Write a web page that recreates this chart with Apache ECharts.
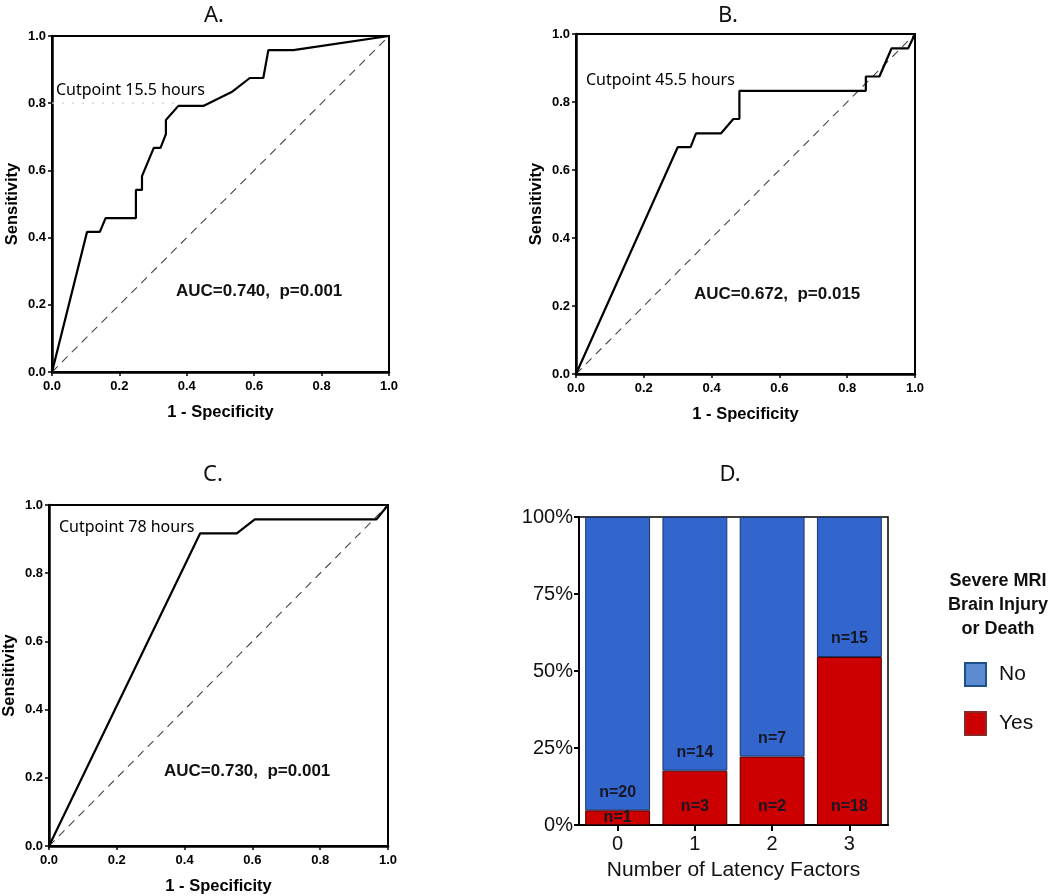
<!DOCTYPE html>
<html>
<head>
<meta charset="utf-8">
<script src="https://cdn.jsdelivr.net/npm/echarts@6/dist/echarts.min.js"></script>
<style>
html,body{margin:0;padding:0;background:#fff;}
#chart{width:1050px;height:896px;}
</style>
</head>
<body>
<div id="chart"></div>
<script>
// ---- Data ----
const rocTicks = [0, 0.2, 0.4, 0.6, 0.8, 1.0];

const fprA = [0, 0.104, 0.142, 0.159, 0.249, 0.249, 0.267, 0.267, 0.302, 0.322, 0.338, 0.338, 0.375, 0.449, 0.533, 0.587, 0.627, 0.642, 0.716, 1.0];
const tprA = [0, 0.417, 0.417, 0.458, 0.458, 0.542, 0.542, 0.583, 0.667, 0.667, 0.708, 0.750, 0.792, 0.792, 0.833, 0.875, 0.875, 0.958, 0.958, 1.0];

const fprB = [0, 0.300, 0.338, 0.354, 0.428, 0.464, 0.482, 0.482, 0.855, 0.855, 0.895, 0.931, 0.980, 1.0];
const tprB = [0, 0.667, 0.667, 0.708, 0.708, 0.750, 0.750, 0.833, 0.833, 0.875, 0.875, 0.958, 0.958, 1.0];

const fprC = [0, 0.446, 0.554, 0.607, 0.966, 1.0];
const tprC = [0, 0.917, 0.917, 0.958, 0.958, 1.0];

const diagX = [0, 1];
const diagY = [0, 1];

const cutGuideAX = [0, 0.375];
const cutGuideAY = [0.8, 0.8];

const panelTitles = ['A.', 'B.', 'C.', 'D.'];
const cutpointTexts = ['Cutpoint 15.5 hours', 'Cutpoint 45.5 hours', 'Cutpoint 78 hours'];
const aucTexts = ['AUC=0.740,  p=0.001', 'AUC=0.672,  p=0.015', 'AUC=0.730,  p=0.001'];

const latencyCategories = ['0', '1', '2', '3'];
const countNo = [20, 14, 7, 15];
const countYes = [1, 3, 2, 18];
const pctTicks = [0, 25, 50, 75, 100];

// ---- Build ----
const zip = (xs, ys) => xs.map((x, i) => [x, ys[i]]);
const pctYes = countYes.map((v, i) => v / (v + countNo[i]) * 100);
const pctNo = countNo.map((v, i) => v / (v + countYes[i]) * 100);

const chart = echarts.init(document.getElementById('chart'), null, {renderer: 'canvas'});

const rocGrids = [
  {left: 52, top: 36, width: 337, height: 336},
  {left: 576, top: 34, width: 339, height: 340},
  {left: 48, top: 505, width: 340, height: 341}
];
const barGrid = {left: 579, top: 517, width: 309, height: 308};

const tickFont = {fontFamily: 'Liberation Sans, Arial', fontWeight: 'bold', fontSize: 13, color: '#000'};
const nameFont = {fontFamily: 'Liberation Sans, Arial', fontWeight: 'bold', fontSize: 16.5, color: '#000'};

const grid = rocGrids.map(g => Object.assign({show: true, borderColor: '#000', borderWidth: 2, backgroundColor: '#fff'}, g));
grid.push(Object.assign({show: true, borderColor: '#000', borderWidth: 1.5, backgroundColor: '#fff'}, barGrid));

const xAxis = [], yAxis = [];
for (let i = 0; i < 3; i++) {
  xAxis.push({
    gridIndex: i, type: 'value', min: 0, max: 1, interval: 0.2,
    name: '1 - Specificity', nameLocation: 'middle', nameGap: 32, nameTextStyle: nameFont,
    axisLine: {show: true, onZero: false, lineStyle: {color: '#000', width: 2.5}},
    axisTick: {show: true, length: 4, lineStyle: {color: '#000', width: 1.5}},
    axisLabel: Object.assign({margin: 8, formatter: v => v.toFixed(1)}, tickFont),
    splitLine: {show: false}
  });
  yAxis.push({
    gridIndex: i, type: 'value', min: 0, max: 1, interval: 0.2,
    name: 'Sensitivity', nameLocation: 'middle', nameGap: 31, nameTextStyle: nameFont,
    axisLine: {show: true, onZero: false, lineStyle: {color: '#000', width: 2.5}},
    axisTick: {show: true, length: 4, lineStyle: {color: '#000', width: 1.5}},
    axisLabel: Object.assign({margin: 6, formatter: v => v.toFixed(1)}, tickFont),
    splitLine: {show: false}
  });
}
xAxis.push({
  gridIndex: 3, type: 'category', data: latencyCategories,
  name: 'Number of Latency Factors', nameLocation: 'middle', nameGap: 35,
  nameTextStyle: {fontFamily: 'Liberation Sans, Arial', fontSize: 21, color: '#111', letterSpacing: 0.5},
  axisLine: {show: true, lineStyle: {color: '#000', width: 2}},
  axisTick: {show: true, alignWithLabel: true, length: 6, lineStyle: {color: '#000', width: 2}},
  axisLabel: {margin: 9, fontFamily: 'Liberation Sans, Arial', fontSize: 20, color: '#111'}
});
yAxis.push({
  gridIndex: 3, type: 'value', min: 0, max: 100, interval: 25,
  axisLine: {show: true, lineStyle: {color: '#000', width: 2}},
  axisTick: {show: true, length: 5, lineStyle: {color: '#000', width: 2}},
  axisLabel: {margin: 6, formatter: '{value}%', fontFamily: 'Liberation Sans, Arial', fontSize: 20, color: '#111'},
  splitLine: {show: false}
});

const rocData = [[fprA, tprA], [fprB, tprB], [fprC, tprC]];
const series = [];
rocData.forEach((d, i) => {
  series.push({
    type: 'line', xAxisIndex: i, yAxisIndex: i, data: zip(diagX, diagY),
    symbol: 'none', silent: true, animation: false,
    lineStyle: {color: '#444', width: 1.1, type: [8, 6]}
  });
  series.push({
    type: 'line', xAxisIndex: i, yAxisIndex: i, data: zip(d[0], d[1]),
    symbol: 'none', animation: false,
    lineStyle: {color: '#000', width: 2.2}
  });
});
series.push({
  type: 'line', xAxisIndex: 0, yAxisIndex: 0, data: zip(cutGuideAX, cutGuideAY),
  symbol: 'none', animation: false, z: 1,
  lineStyle: {color: '#cfcfcf', width: 1.2, type: [2, 8]}
});

const labelFont = {fontFamily: 'Liberation Sans, Arial', fontWeight: 'bold', fontSize: 16, color: '#161624'};
series.push({
  name: 'Yes', type: 'bar', stack: 'd', xAxisIndex: 3, yAxisIndex: 3,
  barCategoryGap: '16%', animation: false,
  itemStyle: {color: '#CC0000', borderColor: '#4a0000', borderWidth: 1},
  data: pctYes.map((v, i) => ({
    value: v,
    label: Object.assign({show: true, formatter: 'n=' + countYes[i],
      position: (v < 8 ? 'inside' : 'insideBottom'), distance: 10}, labelFont)
  }))
});
series.push({
  name: 'No', type: 'bar', stack: 'd', xAxisIndex: 3, yAxisIndex: 3,
  barCategoryGap: '16%', animation: false,
  itemStyle: {color: '#3366CC', borderColor: '#1a3570', borderWidth: 1},
  data: pctNo.map((v, i) => ({
    value: v,
    label: Object.assign({show: true, formatter: 'n=' + countNo[i],
      position: 'insideBottom', distance: 10}, labelFont)
  }))
});

const titleFont = {fontFamily: 'Noto Sans, Open Sans', fontSize: 22, fontWeight: 'normal', color: '#111'};
const titlePos = [[209, 0], [723, 0], [208, 459], [725, 459]];
const title = panelTitles.map((t, i) => ({
  text: t, left: titlePos[i][0], top: titlePos[i][1], textAlign: 'center', textStyle: titleFont
}));
title.push({
  text: 'Severe MRI\nBrain Injury\nor Death', left: 993, top: 564, textAlign: 'center',
  textStyle: {fontFamily: 'Liberation Sans, Arial', fontWeight: 'bold', fontSize: 18, lineHeight: 24, color: '#111'}
});

const cutFont = {fontFamily: 'Noto Sans, Open Sans', fontSize: 16, fill: '#000'};
const aucFont = {fontFamily: 'Liberation Sans, Arial', fontWeight: 'bold', fontSize: 17, fill: '#111'};
const cutPos = [[56, 93], [586, 83], [59, 530]];
const aucPos = [[176, 293], [694, 296], [164, 773]];
const graphic = [];
cutpointTexts.forEach((t, i) => graphic.push({type: 'text', left: cutPos[i][0], top: cutPos[i][1] - 11, z: 100,
  style: Object.assign({text: t}, cutFont)}));
aucTexts.forEach((t, i) => graphic.push({type: 'text', left: aucPos[i][0], top: aucPos[i][1] - 10, z: 100,
  style: Object.assign({text: t}, aucFont)}));

chart.setOption({
  backgroundColor: '#fff',
  animation: false,
  title: title,
  grid: grid,
  xAxis: xAxis,
  yAxis: yAxis,
  series: series,
  graphic: graphic,
  legend: {
    orient: 'vertical', left: 959, top: 657, itemWidth: 21, itemHeight: 23, itemGap: 24,
    selectedMode: false,
    textStyle: {fontFamily: 'Liberation Sans, Arial', fontSize: 21, color: '#111', padding: [0, 0, 0, 8]},
    data: [
      {name: 'No', icon: 'rect', itemStyle: {color: '#5B8BD0', borderColor: '#1F4E8C', borderWidth: 2}},
      {name: 'Yes', icon: 'rect', itemStyle: {color: '#CC0000', borderColor: '#8B2A2A', borderWidth: 2}}
    ]
  }
});
</script>
</body>
</html>
